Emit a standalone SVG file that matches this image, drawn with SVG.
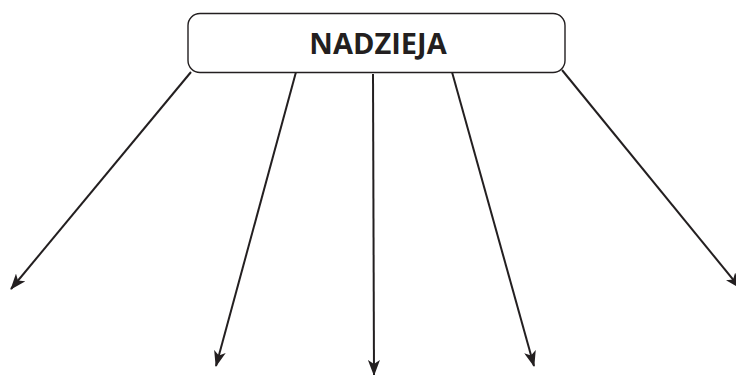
<svg xmlns="http://www.w3.org/2000/svg" width="736" height="375" viewBox="0 0 736 375">
<defs>
<marker id="ah" viewBox="0 0 16 12" refX="15" refY="6" markerWidth="16" markerHeight="12" markerUnits="userSpaceOnUse" orient="auto">
<path d="M0,0 L16,6 L0,12 L4,6 Z" fill="#231f20"/>
</marker>
<style>
.conn{stroke:#231f20;stroke-width:2;fill:none;marker-end:url(#ah)}
.box{fill:#fff;stroke:#231f20;stroke-width:1.4}
.lbl{font-family:"Open Sans","Liberation Sans",sans-serif;font-weight:bold;font-size:29px;fill:#231f20}
</style>
</defs>
<rect width="736" height="375" fill="#fff"/>
<g id="connectors">
<line class="conn" x1="191" y1="72" x2="11" y2="289"/>
<line class="conn" x1="296" y1="72" x2="216" y2="366"/>
<line class="conn" x1="373" y1="74" x2="374" y2="375"/>
<line class="conn" x1="452" y1="72" x2="534" y2="366"/>
<line class="conn" x1="562" y1="70" x2="740" y2="288"/>
</g>
<g id="nadzieja">
<rect class="box" x="188" y="13.5" width="377" height="59" rx="12"/>
<text class="lbl" x="378" y="54" text-anchor="middle">NADZIEJA</text>
</g>
</svg>
